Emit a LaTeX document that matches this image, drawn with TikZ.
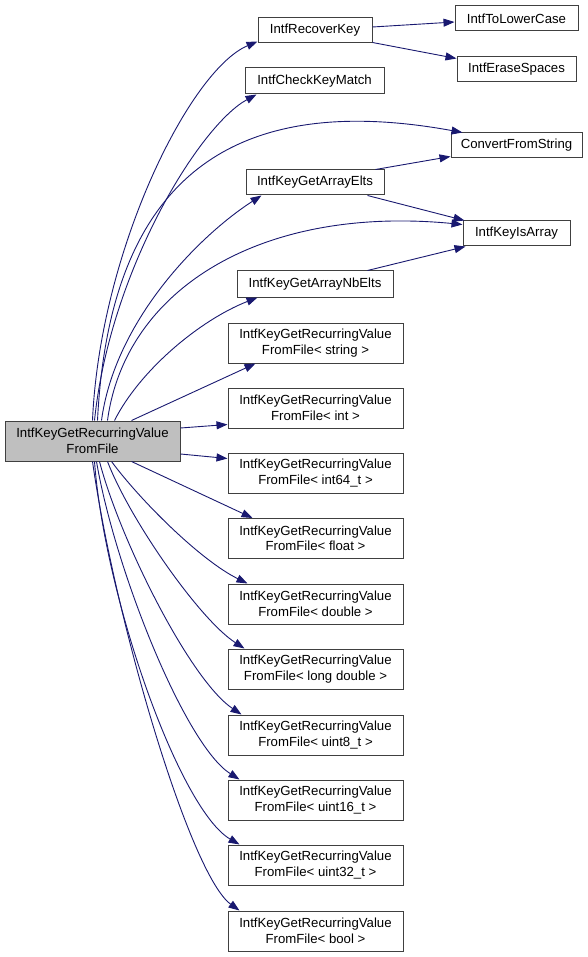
\documentclass[tikz,border=0pt]{standalone}
\usepackage{fontspec}
\setmainfont{Liberation Sans}
\usetikzlibrary{arrows.meta,calc}
\definecolor{edgeblue}{HTML}{191970}
\definecolor{nborder}{HTML}{404040}
\definecolor{mainfill}{HTML}{BFBFBF}
\begin{document}
\begin{tikzpicture}[x=1pt,y=-1pt,
  box/.style={draw=nborder, line width=1pt, fill=white, inner sep=0pt, align=center,
    font=\fontsize{13.2}{15.5}\selectfont},
  tbox/.style={box, minimum width=175pt, minimum height=40pt},
  call/.style={draw=edgeblue, line width=0.9pt, -{Triangle[length=11pt,width=8pt]}, edgeblue}]
\useasboundingbox (0,0) rectangle (588,957);

% nodes
\node[box, fill=mainfill, minimum width=175pt, minimum height=40pt] (main) at (92.5,441) {IntfKeyGetRecurringValue\\FromFile};
\node[box, minimum width=114pt, minimum height=25pt] (rk) at (315,30.5) {IntfRecoverKey};
\node[box, minimum width=123pt, minimum height=25pt] (tlc) at (516.5,18.5) {IntfToLowerCase};
\node[box, minimum width=119pt, minimum height=25pt] (es) at (516.5,69.5) {IntfEraseSpaces};
\node[box, minimum width=139pt, minimum height=26pt] (ckm) at (314.5,81) {IntfCheckKeyMatch};
\node[box, minimum width=131pt, minimum height=25pt] (cfs) at (516.5,145.5) {ConvertFromString};
\node[box, minimum width=138pt, minimum height=25pt] (gae) at (315,182.5) {IntfKeyGetArrayElts};
\node[box, minimum width=107pt, minimum height=25pt] (ia) at (516.5,233.5) {IntfKeyIsArray};
\node[box, minimum width=156pt, minimum height=26pt] (gan) at (315,284) {IntfKeyGetArrayNbElts};

\node[tbox] (t1) at (315.5,343) {IntfKeyGetRecurringValue\\FromFile< string >};
\node[tbox] (t2) at (315.5,408) {IntfKeyGetRecurringValue\\FromFile< int >};
\node[tbox] (t3) at (315.5,473) {IntfKeyGetRecurringValue\\FromFile< int64\_t >};
\node[tbox] (t4) at (315.5,538.5) {IntfKeyGetRecurringValue\\FromFile< float >};
\node[tbox] (t5) at (315.5,604) {IntfKeyGetRecurringValue\\FromFile< double >};
\node[tbox] (t6) at (315.5,669) {IntfKeyGetRecurringValue\\FromFile< long double >};
\node[tbox] (t7) at (315.5,735) {IntfKeyGetRecurringValue\\FromFile< uint8\_t >};
\node[tbox] (t8) at (315.5,800) {IntfKeyGetRecurringValue\\FromFile< uint16\_t >};
\node[tbox] (t9) at (315.5,865) {IntfKeyGetRecurringValue\\FromFile< uint32\_t >};
\node[tbox] (t10) at (315.5,931) {IntfKeyGetRecurringValue\\FromFile< bool >};

% edges from main, upward
\draw[call] ($(main.north west)+(88,0)$) .. controls (100,250) and (190,70) .. ($(rk.south west)+(0,-2)$);
\draw[call] ($(main.north west)+(90,0)$) .. controls (110,270) and (200,125) .. ($(ckm.south west)+(12,0)$);
\draw[call] ($(main.north west)+(93,0)$) .. controls (110,170) and (240,92) .. ($(cfs.north west)+(12,0)$);
\draw[call] ($(main.north west)+(97,0)$) .. controls (115,320) and (200,235) .. ($(gae.south west)+(16,0)$);
\draw[call] ($(main.north west)+(103,0)$) .. controls (125,290) and (260,205) .. ($(ia.north west)+(0,4)$);
\draw[call] ($(main.north west)+(110,0)$) .. controls (140,370) and (200,320) .. ($(gan.south west)+(21,0)$);
\draw[call] ($(main.north west)+(127,0)$) -- ($(t1.south west)+(28,0)$);

% edges from main, sideways
\draw[call] ($(main.east)+(0,-13)$) -- ($(t2.south west)+(0,-4)$);
\draw[call] ($(main.east)+(0,13)$) -- ($(t3.north west)+(0,6)$);

% edges from main, downward
\draw[call] ($(main.south west)+(127,0)$) -- ($(t4.north west)+(25,0)$);
\draw[call] ($(main.south west)+(107,0)$) .. controls (140,500) and (200,560) .. ($(t5.north west)+(20,0)$);
\draw[call] ($(main.south west)+(103,0)$) .. controls (130,520) and (200,620) .. ($(t6.north west)+(17,0)$);
\draw[call] ($(main.south west)+(95,0)$) .. controls (120,540) and (190,680) .. ($(t7.north west)+(14,0)$);
\draw[call] ($(main.south west)+(92,0)$) .. controls (115,570) and (185,745) .. ($(t8.north west)+(12,0)$);
\draw[call] ($(main.south west)+(90,0)$) .. controls (105,600) and (180,810) .. ($(t9.north west)+(12,0)$);
\draw[call] ($(main.south west)+(88,0)$) .. controls (115,620) and (190,875) .. ($(t10.north west)+(12,0)$);

% second level edges
\draw[call] ($(rk.east)+(0,-3.5)$) -- ($(tlc.west)+(0,3.5)$);
\draw[call] ($(rk.south east)+(0,-1)$) -- ($(es.north west)+(0,2)$);
\draw[call] ($(gae.north east)+(-9,0)$) -- ($(cfs.south west)+(0,-2)$);
\draw[call] ($(gae.south east)+(-17,0)$) -- ($(ia.north west)+(2,0)$);
\draw[call] ($(gan.north east)+(-26,0)$) -- ($(ia.south west)+(3,0)$);
\end{tikzpicture}
\end{document}
